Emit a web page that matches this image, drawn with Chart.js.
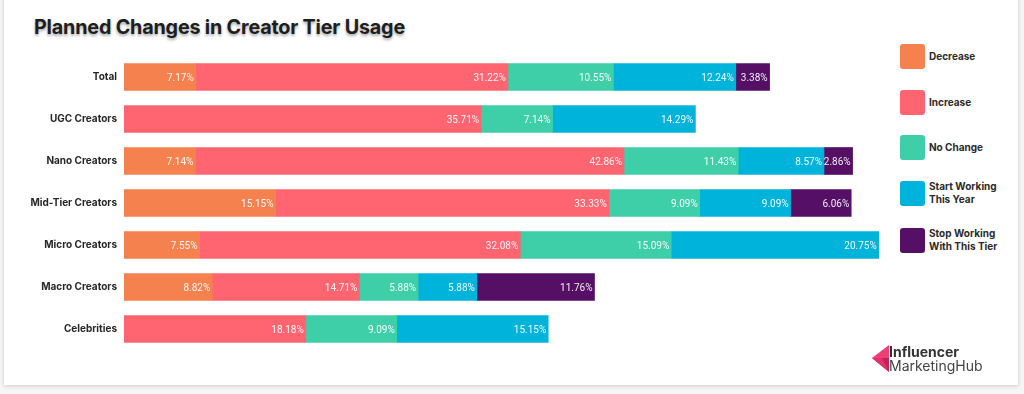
<!DOCTYPE html>
<html>
<head>
<meta charset="utf-8">
<script src="https://cdn.jsdelivr.net/npm/chart.js@4.4.1/dist/chart.umd.min.js"></script>
<style>
    body { margin: 0; width: 1024px; height: 394px; background: #f6f6f6; overflow: hidden; font-family: 'Inter', 'Roboto', sans-serif; }
    .card { position: absolute; left: 4px; top: -10px; width: 1014px; height: 395px; background: #fff; box-shadow: 0 1px 4px rgba(0,0,0,0.18); }
    .title { position: absolute; left: 34px; top: 15px; font-size: 19.8px; font-weight: 700; color: #1e1e1e; letter-spacing: -0.2px; text-shadow: 0 2px 3px rgba(0,0,0,0.35); }
    #wrap { position: absolute; left: 0; top: 43px; width: 890px; height: 320px; }
    .legend { position: absolute; left: 900px; top: 0; }
    .legend .item { position: absolute; left: 0; width: 120px; display: flex; align-items: center; }
    .legend .sw { width: 25px; height: 25px; border-radius: 3px; flex: none; }
    .legend .lb { margin-left: 4px; font-size: 10px; font-weight: 700; color: #2a2a2a; line-height: 13px; }
    .logo { position: absolute; left: 870px; top: 342px; }
    .logo .t1 { position: absolute; left: 19px; top: 1px; font-size: 14px; font-weight: 700; color: #333; white-space: nowrap; }
    .logo .t2 { position: absolute; left: 19px; top: 15px; font-size: 14px; font-weight: 400; color: #444; white-space: nowrap; }
</style>
</head>
<body>
<div class="card"></div>
<div class="title">Planned Changes in Creator Tier Usage</div>
<div id="wrap"><canvas id="chart"></canvas></div>
<div class="legend" id="legend"></div>
<div class="logo">
    <svg width="22" height="32" style="position:absolute;left:0;top:0">
        <polygon points="2,16 19,3 19,16" fill="#ee3f73"/>
        <polygon points="2,16 19,16 19,30" fill="#c42059"/>
        <polygon points="2,16 12,16 19,30" fill="#e0336a"/>
    </svg>
    <div class="t1">Influencer</div>
    <div class="t2">MarketingHub</div>
</div>
<script>
const categories = ['Total', 'UGC Creators', 'Nano Creators', 'Mid-Tier Creators', 'Micro Creators', 'Macro Creators', 'Celebrities'];
const seriesNames = ['Decrease', 'Increase', 'No Change', 'Start Working This Year', 'Stop Working With This Tier'];
const legendLines = [['Decrease'], ['Increase'], ['No Change'], ['Start Working', 'This Year'], ['Stop Working', 'With This Tier']];
const decrease = [7.17, null, 7.14, 15.15, 7.55, 8.82, null];
const increase = [31.22, 35.71, 42.86, 33.33, 32.08, 14.71, 18.18];
const noChange = [10.55, 7.14, 11.43, 9.09, 15.09, 5.88, 9.09];
const startWorking = [12.24, 14.29, 8.57, 9.09, 20.75, 5.88, 15.15];
const stopWorking = [3.38, null, 2.86, 6.06, null, 11.76, null];
const colors = ['#f5814f', '#fe6570', '#3ecfa9', '#00b3db', '#551066'];
const legendTops = [44, 90, 135, 180, 227];

const seriesData = [decrease, increase, noChange, startWorking, stopWorking];

// legend built from the same arrays
const legendEl = document.getElementById('legend');
seriesNames.forEach((name, i) => {
    const item = document.createElement('div');
    item.className = 'item';
    item.style.top = legendTops[i] + 'px';
    item.innerHTML = `<div class="sw" style="background:${colors[i]}"></div><div class="lb">${legendLines[i].join('<br>')}</div>`;
    legendEl.appendChild(item);
});

// value labels at the right end of every segment
const segmentLabels = {
    id: 'segmentLabels',
    afterDatasetsDraw(chart) {
        const ctx = chart.ctx;
        ctx.save();
        ctx.font = '10px Roboto, sans-serif';
        ctx.fillStyle = 'rgba(255,255,255,0.92)';
        ctx.textAlign = 'right';
        ctx.textBaseline = 'middle';
        chart.data.datasets.forEach((ds, di) => {
            const meta = chart.getDatasetMeta(di);
            meta.data.forEach((bar, i) => {
                const v = ds.data[i];
                if (v === null || v === undefined) return;
                ctx.fillText(v.toFixed(2) + '%', bar.x - 2, bar.y + 1);
            });
        });
        ctx.restore();
    }
};

new Chart(document.getElementById('chart'), {
    type: 'bar',
    data: {
        labels: categories,
        datasets: seriesNames.map((name, i) => ({
            label: name,
            data: seriesData[i],
            backgroundColor: colors[i],
            barThickness: 27,
            borderWidth: 0
        }))
    },
    options: {
        indexAxis: 'y',
        responsive: true,
        maintainAspectRatio: false,
        animation: false,
        layout: { padding: { top: 5, bottom: 10, right: 6, left: 0 } },
        plugins: {
            legend: { display: false },
            tooltip: { enabled: false }
        },
        scales: {
            x: {
                stacked: true,
                min: 0,
                max: 76,
                display: false
            },
            y: {
                stacked: true,
                grid: { display: false, drawTicks: false },
                border: { display: false },
                ticks: {
                    padding: 7,
                    color: '#262626',
                    font: { family: "'Inter', sans-serif", size: 10, weight: 'bold' }
                },
                afterFit: s => { s.width = 124; }
            }
        }
    },
    plugins: [segmentLabels]
});
</script>
</body>
</html>
